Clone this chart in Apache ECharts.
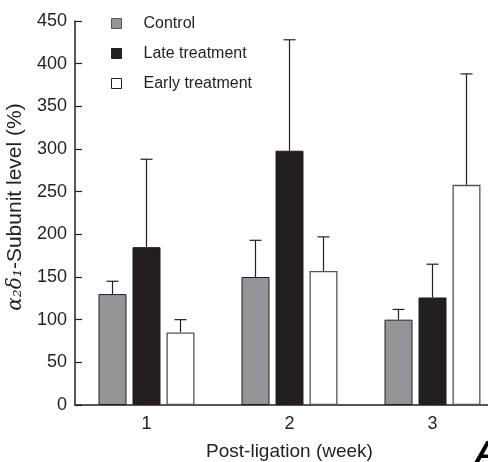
<!DOCTYPE html>
<html>
<head>
<meta charset="utf-8">
<script src="https://cdn.jsdelivr.net/npm/echarts@6/dist/echarts.min.js"></script>
<style>html,body{margin:0;padding:0;background:#fff}#c{width:488px;height:462px}</style>
</head>
<body>
<div id="c"></div>
<script>
var categories = ['1', '2', '3'];
var controlMean = [130, 150, 100];
var controlErr = [145, 193, 112];
var lateMean = [185, 298, 126];
var lateErr = [288, 428, 165];
var earlyMean = [85, 157, 258];
var earlyErr = [100, 197, 388];
var yTicks = [0, 50, 100, 150, 200, 250, 300, 350, 400, 450];

var chart = echarts.init(document.getElementById('c'));
var FONT = 'Liberation Sans, Arial, sans-serif';
var TXT = '#231f20';

function errSeries(name, errs, idx) {
  return {
    type: 'custom',
    name: name + ' err',
    z: 1,
    data: errs.map(function (v, i) { return [i, v]; }),
    renderItem: function (params, api) {
      var i = api.value(0);
      var top = api.coord([i, api.value(1)]);
      var barW = 28, gap = 6;
      var x = top[0] + (idx - 1) * (barW + gap);
      var meanArr = idx === 0 ? controlMean : (idx === 1 ? lateMean : earlyMean);
      var base = api.coord([i, meanArr[i]]);
      var cap = 6;
      return {
        type: 'group',
        children: [
          { type: 'line', shape: { x1: x, y1: base[1], x2: x, y2: top[1] }, style: { stroke: TXT, lineWidth: 1.2 } },
          { type: 'line', shape: { x1: x - cap, y1: top[1], x2: x + cap, y2: top[1] }, style: { stroke: TXT, lineWidth: 1.2 } }
        ]
      };
    }
  };
}

chart.setOption({
  animation: false,
  grid: { left: 75, top: 21, width: 429, bottom: 57, containLabel: false, outerBoundsMode: 'none' },
  legend: {
    orient: 'vertical',
    left: 106,
    top: 9,
    itemWidth: 10,
    itemHeight: 10,
    itemGap: 11,
    icon: 'rect',
    textStyle: { fontFamily: FONT, fontSize: 16, color: TXT, padding: [0, 0, 0, 17], lineHeight: 19 },
    data: [
      { name: 'Control', itemStyle: { color: '#939598', borderColor: '#555555', borderWidth: 1 } },
      { name: 'Late treatment', itemStyle: { color: '#231f20', borderColor: '#231f20', borderWidth: 1 } },
      { name: 'Early treatment', itemStyle: { color: '#ffffff', borderColor: '#231f20', borderWidth: 1 } }
    ]
  },
  xAxis: {
    type: 'category',
    data: categories,
    axisLine: { lineStyle: { color: TXT, width: 1.5 } },
    axisTick: { show: false },
    axisLabel: { fontFamily: FONT, fontSize: 18, color: TXT, margin: 10 },
    name: 'Post-ligation (week)',
    nameLocation: 'middle',
    nameGap: 37,
    nameTextStyle: { fontFamily: FONT, fontSize: 19, color: TXT }
  },
  yAxis: {
    type: 'value',
    min: 0,
    max: 450,
    interval: 50,
    splitLine: { show: false },
    axisLine: { show: true, lineStyle: { color: TXT, width: 1.5 } },
    axisTick: { show: true, inside: true, length: 7, lineStyle: { color: TXT, width: 1.2 } },
    axisLabel: {
      fontFamily: FONT, fontSize: 18, color: TXT, margin: 8,
      formatter: function (v) { return yTicks.indexOf(v) >= 0 ? String(v) : ''; }
    },
    name: '{g|α₂δ₁}-Subunit level (%)',
    nameLocation: 'middle',
    nameRotate: 90,
    nameGap: 44,
    nameTextStyle: {
      fontFamily: FONT, fontSize: 21, color: TXT, padding: [0, 0, 0, 12],
      rich: { g: { fontFamily: 'DejaVu Serif, serif', fontStyle: 'italic', fontSize: 20, color: TXT } }
    }
  },
  series: [
    { type: 'bar', name: 'Control', data: controlMean, barWidth: 28, barGap: '21.4%', z: 2,
      itemStyle: { color: '#939598', borderColor: '#231f20', borderWidth: 1 } },
    { type: 'bar', name: 'Late treatment', data: lateMean, barWidth: 28, barGap: '21.4%', z: 2,
      itemStyle: { color: '#231f20', borderColor: '#231f20', borderWidth: 1 } },
    { type: 'bar', name: 'Early treatment', data: earlyMean, barWidth: 28, barGap: '21.4%', z: 2,
      itemStyle: { color: '#ffffff', borderColor: '#555555', borderWidth: 1.3 } },
    errSeries('Control', controlErr, 0),
    errSeries('Late treatment', lateErr, 1),
    errSeries('Early treatment', earlyErr, 2)
  ],
  graphic: [
    { type: 'text', left: 474, top: 438, silent: true,
      style: { text: 'A', font: 'italic 900 34px ' + FONT, fill: '#000' } }
  ]
});
</script>
</body>
</html>
